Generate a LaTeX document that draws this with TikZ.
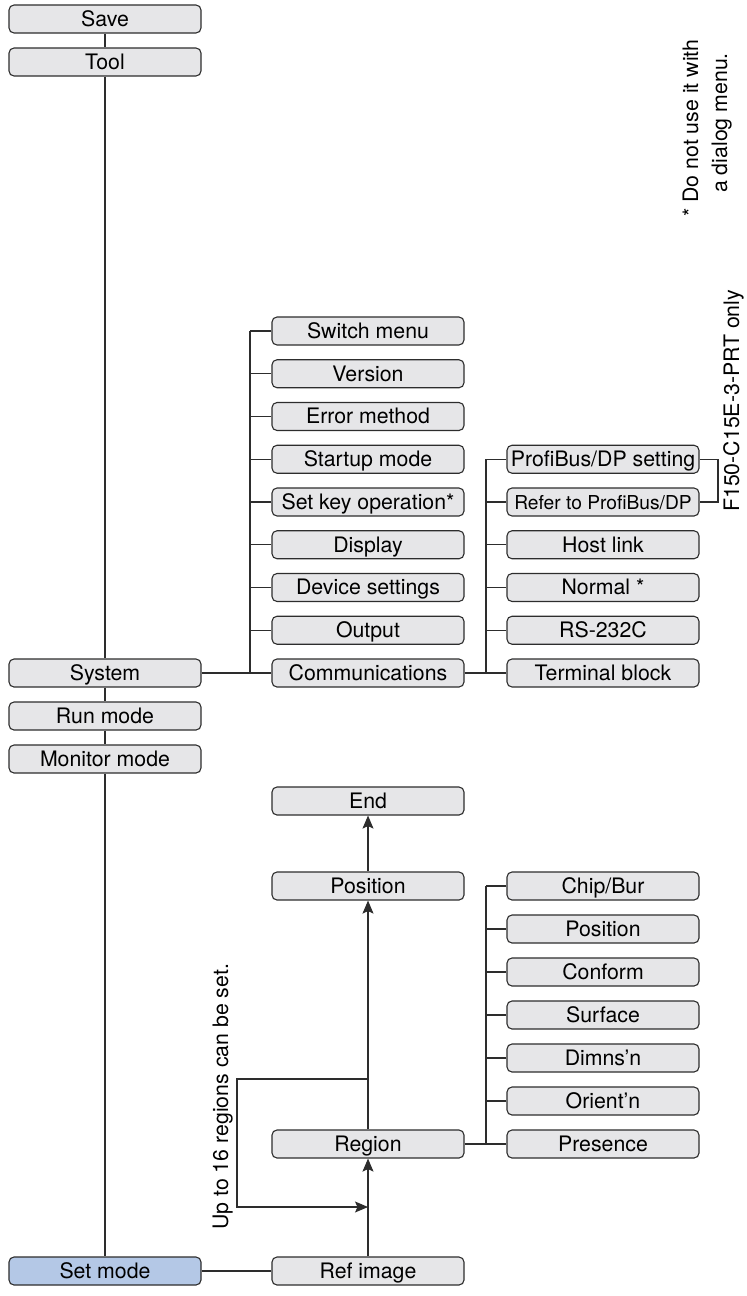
\documentclass[tikz,border=0pt]{standalone}
\usepackage{fontspec}
\setmainfont{TeX Gyre Heros}
\usetikzlibrary{arrows.meta}
\definecolor{boxfill}{RGB}{230,230,232}
\definecolor{selfill}{RGB}{180,200,230}
\definecolor{edge}{RGB}{45,45,45}
\tikzset{
  mbox/.style={draw=edge, fill=boxfill, rounded corners=5pt, minimum width=192pt,
    minimum height=28pt, inner sep=0pt, line width=1.1pt,
    font=\fontsize{21.3}{25}\selectfont, text height=15.2pt, text depth=0.5pt},
  selbox/.style={mbox, fill=selfill},
  conn/.style={draw=edge, line width=1.1pt},
  arr/.style={conn, -{Stealth[length=13pt,width=11pt,inset=2.5pt]}},
  note/.style={font=\fontsize{21.3}{25}\selectfont, rotate=90, anchor=base west, inner sep=0pt}
}
\begin{document}
\begin{tikzpicture}[x=1pt,y=-1pt]
\useasboundingbox (0,0) rectangle (747,1296);
% left column
\node[mbox] (save) at (105,19) {Save};
\node[mbox] (tool) at (105,62) {Tool};
\node[mbox] (system) at (105,673) {System};
\node[mbox] (run) at (105,716) {Run mode};
\node[mbox] (monitor) at (105,759) {Monitor mode};
\node[selbox] (setmode) at (105,1271) {Set mode};
% middle column (system)
\node[mbox] (switch) at (368,331) {Switch menu};
\node[mbox] (version) at (368,373.75) {Version};
\node[mbox] (error) at (368,416.5) {Error method};
\node[mbox] (startup) at (368,459.25) {Startup mode};
\node[mbox] (setkey) at (368,502) {Set key operation*};
\node[mbox] (display) at (368,544.75) {Display};
\node[mbox] (device) at (368,587.5) {Device settings};
\node[mbox] (output) at (368,630.25) {Output};
\node[mbox] (comm) at (368,673) {Communications};
% right column (communications)
\node[mbox] (profi) at (603,459.25) {ProfiBus/DP setting};
\node[mbox, font=\fontsize{19.2}{23}\selectfont] (refer) at (603,502) {Refer to ProfiBus/DP};
\node[mbox] (host) at (603,544.75) {Host link};
\node[mbox] (normal) at (603,587.5) {Normal *};
\node[mbox] (rs) at (603,630.25) {RS-232C};
\node[mbox] (terminal) at (603,673) {Terminal block};
% lower part
\node[mbox] (end) at (368,801) {End};
\node[mbox] (position) at (368,886) {Position};
\node[mbox] (region) at (368,1144) {Region};
\node[mbox] (refimg) at (368,1271) {Ref image};
\node[mbox] (chip) at (603,886) {Chip/Bur};
\node[mbox] (rpos) at (603,929) {Position};
\node[mbox] (conform) at (603,972) {Conform};
\node[mbox] (surface) at (603,1015) {Surface};
\node[mbox] (dimns) at (603,1058) {Dimns'n};
\node[mbox] (orient) at (603,1101) {Orient'n};
\node[mbox] (presence) at (603,1144) {Presence};
% helper coordinates
\coordinate (busA) at (250,0);
\coordinate (busB) at (486,0);
\coordinate (brk) at (718,0);
\coordinate (lt) at (368,1079);
\coordinate (lb) at (368,1207);
\coordinate (ll) at (237,0);
% main trunk
\draw[conn] (save) -- (tool);
\draw[conn] (tool) -- (system);
\draw[conn] (system) -- (run);
\draw[conn] (run) -- (monitor);
\draw[conn] (monitor) -- (setmode);
% system branch
\draw[conn] (system.east) -- (comm.west);
\draw[conn] (switch.west -| busA) -- (comm.west -| busA);
\foreach \n in {switch,version,error,startup,setkey,display,device,output}
  \draw[conn] (\n.west) -- (\n.west -| busA);
% communications branch
\draw[conn] (comm.east) -- (terminal.west);
\draw[conn] (profi.west -| busB) -- (terminal.west -| busB);
\foreach \n in {profi,refer,host,normal,rs}
  \draw[conn] (\n.west) -- (\n.west -| busB);
\draw[conn] (profi.east) -- (profi.east -| brk) -- (refer.east -| brk) -- (refer.east);
% set mode branch
\draw[conn] (setmode.east) -- (refimg.west);
\draw[arr] (refimg.north) -- (region.south);
\draw[arr] (region.north) -- (position.south);
\draw[arr] (position.north) -- (end.south);
\draw[arr] (lt) -| (ll |- lb) -- (lb);
\draw[conn] (region.east) -- (presence.west);
\draw[conn] (chip.west -| busB) -- (presence.west -| busB);
\foreach \n in {chip,rpos,conform,surface,dimns,orient}
  \draw[conn] (\n.west) -- (\n.west -| busB);
% notes
\node[note] (n1) at (698,217) {* Do not use it with};
\node[note] (n2) at (727,193) {a dialog menu.};
\node[note] (n3) at (739,512) {F150-C15E-3-PRT only};
\node[note] (n4) at (228,1230) {Up to 16 regions can be set.};
\end{tikzpicture}
\end{document}
